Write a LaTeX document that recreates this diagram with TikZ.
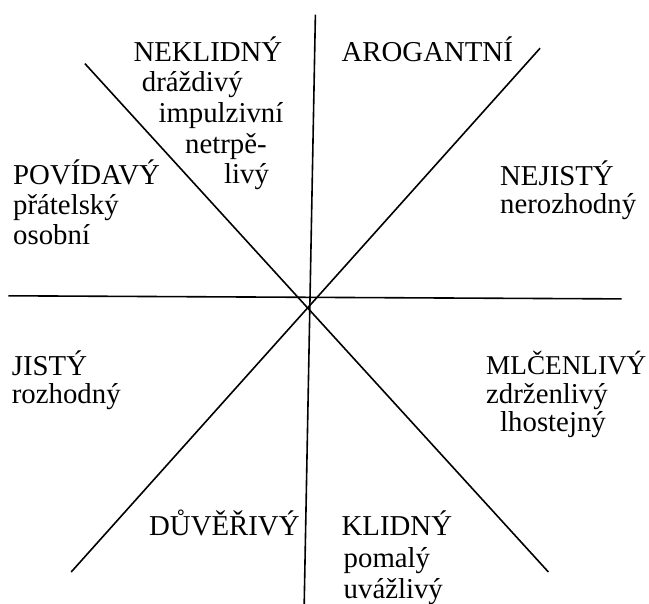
\documentclass[tikz,border=0pt]{standalone}
\usepackage{fontspec}
\setmainfont{Liberation Serif}
\begin{document}
\begin{tikzpicture}[x=1pt,y=-1pt,
  axis/.style={line width=1.6pt,black},
  lbl/.style={anchor=base west,inner sep=0pt,font=\fontsize{28.8}{31}\selectfont},
  narrow/.style={font=\fontsize{27.2}{31}\selectfont}]
\useasboundingbox (0,0) rectangle (649,604);
% axes
\coordinate (vt) at (315.4,14.6);
\coordinate (vb) at (304.2,604);
\coordinate (hl) at (8.3,295.8);
\coordinate (hr) at (621.7,298.9);
\coordinate (d1a) at (84.9,63.6);
\coordinate (d1b) at (548.4,572);
\coordinate (d2a) at (540.1,48.2);
\coordinate (d2b) at (71.2,572);
\draw[axis] (vt) -- (vb);
\draw[axis] (hl) -- (hr);
\draw[axis] (d1a) -- (d1b);
\draw[axis] (d2a) -- (d2b);
% labels
\node[lbl] (n1) at (133.3,61.7) {NEKLIDNÝ};
\node[lbl] (n2) at (141.7,91.7) {dráždivý};
\node[lbl] (n3) at (158.3,122.7) {impulzivní};
\node[lbl] (n4) at (185,153.3) {netrpě-};
\node[lbl] (n5) at (224,184) {livý};
\node[lbl] (a1) at (341.5,62) {AROGANTNÍ};
\node[lbl] (p1) at (13,185) {POVÍDAVÝ};
\node[lbl] (p2) at (13,215) {přátelský};
\node[lbl] (p3) at (13,245) {osobní};
\node[lbl] (j1) at (500,186) {NEJISTÝ};
\node[lbl] (j2) at (500,214) {nerozhodný};
\node[lbl] (s1) at (11.7,376) {JISTÝ};
\node[lbl] (s2) at (11.7,404) {rozhodný};
\node[lbl,narrow] (m1) at (486,375) {MLČENLIVÝ};
\node[lbl] (m2) at (486,404) {zdrženlivý};
\node[lbl] (m3) at (500,432) {lhostejný};
\node[lbl] (d1) at (149,535.4) {DŮVĚŘIVÝ};
\node[lbl] (k1) at (341.5,535.4) {KLIDNÝ};
\node[lbl] (k2) at (343.5,567) {pomalý};
\node[lbl] (k3) at (343.5,598) {uvážlivý};
\end{tikzpicture}
\end{document}
